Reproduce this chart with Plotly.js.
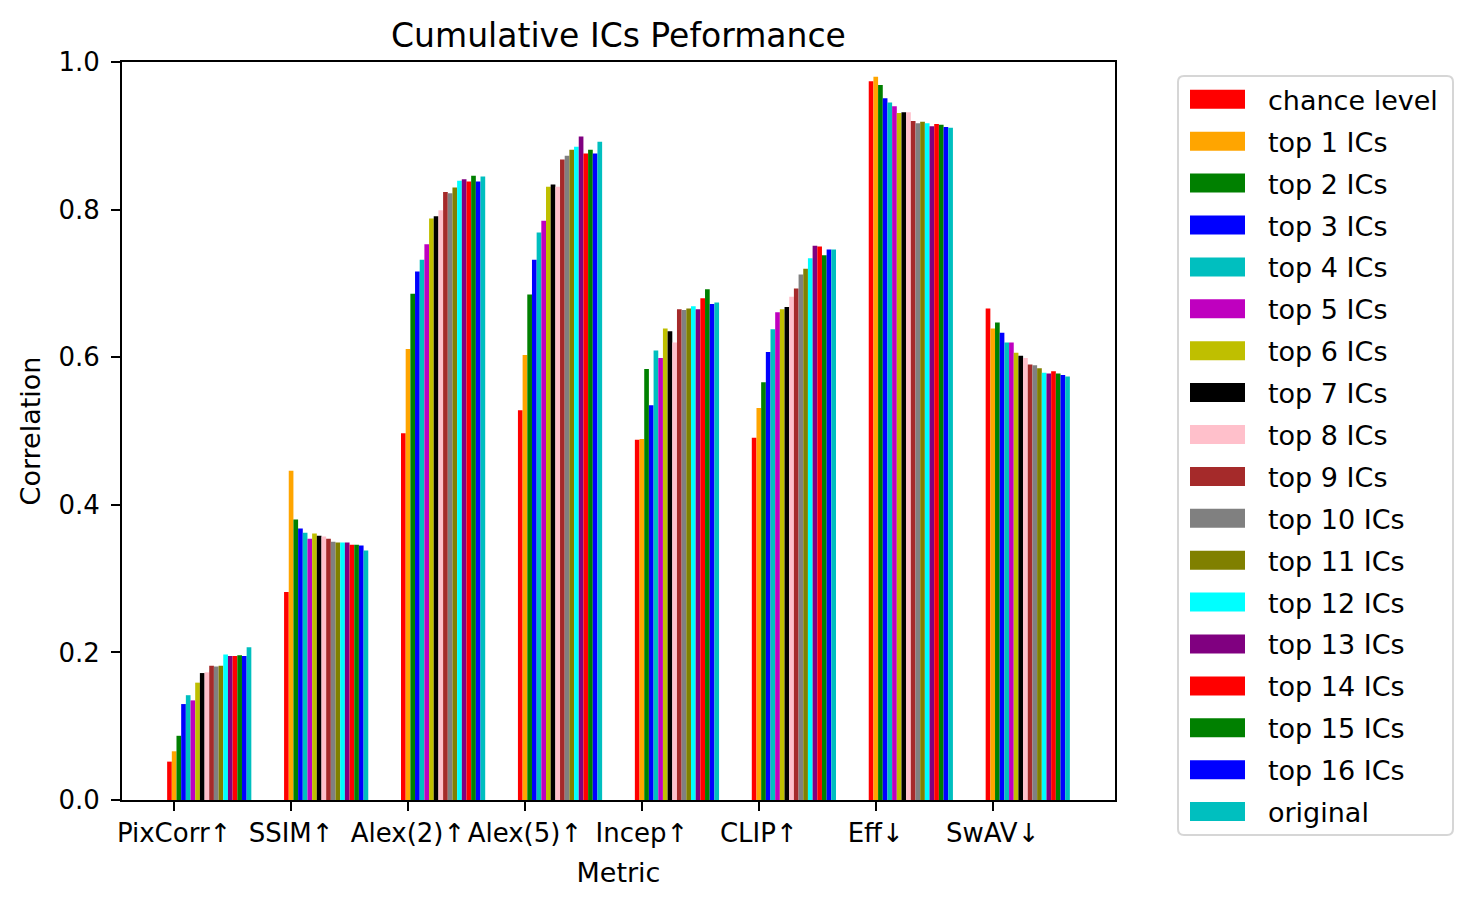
<!DOCTYPE html>
<html>
<head>
<meta charset="utf-8">
<script src="https://cdn.plot.ly/plotly-3.0.1.min.js"></script>
<style>html,body{margin:0;padding:0;background:#fff;}#chart{width:1472px;height:908px;}</style>
</head>
<body>
<div id="chart"></div>
<script>
// ---- data ----
const metrics = ['PixCorr↑', 'SSIM↑', 'Alex(2)↑', 'Alex(5)↑', 'Incep↑', 'CLIP↑', 'Eff↓', 'SwAV↓'];
const seriesNames = ['chance level', 'top 1 ICs', 'top 2 ICs', 'top 3 ICs', 'top 4 ICs', 'top 5 ICs',
  'top 6 ICs', 'top 7 ICs', 'top 8 ICs', 'top 9 ICs', 'top 10 ICs', 'top 11 ICs', 'top 12 ICs',
  'top 13 ICs', 'top 14 ICs', 'top 15 ICs', 'top 16 ICs', 'original'];
const seriesColors = ['#ff0000', '#ffa500', '#008000', '#0000ff', '#00bfbf', '#bf00bf', '#bfbf00',
  '#000000', '#ffc0cb', '#a52a2a', '#808080', '#808000', '#00ffff', '#800080', '#ff0000',
  '#008000', '#0000ff', '#00bfbf'];
// values per metric, one entry per series (in seriesNames order)
const pixcorr = [0.052, 0.066, 0.087, 0.130, 0.142, 0.135, 0.159, 0.172, 0.173, 0.182, 0.181, 0.182, 0.197, 0.195, 0.195, 0.196, 0.195, 0.207];
const ssim    = [0.282, 0.446, 0.380, 0.368, 0.362, 0.354, 0.361, 0.358, 0.357, 0.354, 0.350, 0.349, 0.349, 0.349, 0.346, 0.346, 0.345, 0.338];
const alex2   = [0.497, 0.611, 0.686, 0.716, 0.732, 0.753, 0.788, 0.791, 0.799, 0.824, 0.822, 0.830, 0.839, 0.841, 0.838, 0.846, 0.838, 0.845];
const alex5   = [0.528, 0.603, 0.685, 0.732, 0.769, 0.785, 0.831, 0.834, 0.831, 0.868, 0.873, 0.881, 0.885, 0.899, 0.876, 0.881, 0.876, 0.892];
const incep   = [0.488, 0.489, 0.584, 0.535, 0.609, 0.599, 0.639, 0.635, 0.620, 0.665, 0.664, 0.666, 0.669, 0.665, 0.680, 0.692, 0.672, 0.674];
const clip    = [0.491, 0.531, 0.566, 0.607, 0.638, 0.661, 0.665, 0.668, 0.682, 0.693, 0.712, 0.720, 0.734, 0.751, 0.750, 0.738, 0.746, 0.746];
const eff     = [0.974, 0.980, 0.969, 0.951, 0.945, 0.940, 0.931, 0.932, 0.932, 0.920, 0.917, 0.919, 0.917, 0.913, 0.916, 0.915, 0.912, 0.911];
const swav    = [0.666, 0.639, 0.647, 0.633, 0.620, 0.620, 0.606, 0.602, 0.599, 0.590, 0.589, 0.585, 0.579, 0.578, 0.581, 0.578, 0.576, 0.574];
const yTickVals = [0, 0.2, 0.4, 0.6, 0.8, 1.0];

// ---- build ----
const table = [pixcorr, ssim, alex2, alex5, incep, clip, eff, swav];
const nS = seriesNames.length;
const barW = 0.04;
// matplotlib-style: ticks sit at the centre of the 2nd bar of each group
const groupShift = (nS / 2 - 1.5) * barW;
const groupPos = metrics.map((m, k) => k + groupShift);

const traces = seriesNames.map((name, i) => ({
  type: 'bar',
  name: name,
  x: groupPos,
  y: table.map(row => row[i]),
  marker: {color: seriesColors[i], line: {width: 0}},
  showlegend: false,
  hoverinfo: 'name+y'
}));

// ---- manual matplotlib-like legend ----
const L = 122, R = 1115, T = 62, B = 800;
const px2x = p => (p - L) / (R - L);
const py2y = p => (B - p) / (B - T);
const shapes = [];
const annotations = [];
const boxL = 1178, boxR = 1453, boxT = 76, boxB = 835, rad = 6;
const rx = rad / (R - L), ry = rad / (B - T);
const bx0 = px2x(boxL), bx1 = px2x(boxR), by0 = py2y(boxB), by1 = py2y(boxT);
shapes.push({
  type: 'path', xref: 'paper', yref: 'paper',
  path: `M${bx0 + rx},${by1} L${bx1 - rx},${by1} Q${bx1},${by1} ${bx1},${by1 - ry} ` +
        `L${bx1},${by0 + ry} Q${bx1},${by0} ${bx1 - rx},${by0} L${bx0 + rx},${by0} ` +
        `Q${bx0},${by0} ${bx0},${by0 + ry} L${bx0},${by1 - ry} Q${bx0},${by1} ${bx0 + rx},${by1} Z`,
  fillcolor: '#ffffff', line: {color: '#d6d6d6', width: 2}, layer: 'above'
});
const firstY = 99.3, stepY = 41.9;
seriesNames.forEach((name, i) => {
  const cy = firstY + i * stepY;
  shapes.push({
    type: 'rect', xref: 'paper', yref: 'paper',
    x0: px2x(1190), x1: px2x(1245), y0: py2y(cy + 9.5), y1: py2y(cy - 9.5),
    fillcolor: seriesColors[i], line: {width: 0}, layer: 'above'
  });
  annotations.push({
    xref: 'paper', yref: 'paper', x: px2x(1266), y: py2y(cy + 1),
    xanchor: 'left', yanchor: 'middle', showarrow: false, text: name,
    font: {family: 'DejaVu Sans', size: 27, color: '#000'}
  });
});

const layout = {
  width: 1472, height: 908,
  margin: {l: L, r: 1472 - R, t: T, b: 908 - B, pad: 0},
  paper_bgcolor: '#ffffff', plot_bgcolor: '#ffffff',
  font: {family: 'DejaVu Sans', size: 26, color: '#000'},
  barmode: 'group', bargap: 1 - nS * barW, bargroupgap: 0,
  title: {text: 'Cumulative ICs Peformance', font: {family: 'DejaVu Sans', size: 33, color: '#000'},
          x: 0.5, xref: 'paper', xanchor: 'center', y: 1, yref: 'paper', yanchor: 'bottom', pad: {b: 15}},
  xaxis: {
    range: [-0.446, 8.046], tickmode: 'array', tickvals: metrics.map((m, k) => k), ticktext: metrics,
    showline: true, mirror: true, linecolor: '#000', linewidth: 2, showgrid: false, zeroline: false,
    ticks: 'outside', ticklen: 9, tickwidth: 2, tickcolor: '#000', ticklabelstandoff: 0,
    tickfont: {family: 'DejaVu Sans', size: 26, color: '#000'},
    title: {text: 'Metric', font: {family: 'DejaVu Sans', size: 27, color: '#000'}, standoff: 16},
    automargin: false
  },
  yaxis: {
    range: [0, 1], tickmode: 'array', tickvals: yTickVals, ticktext: yTickVals.map(v => v.toFixed(1)),
    showline: true, mirror: true, linecolor: '#000', linewidth: 2, showgrid: false, zeroline: false,
    ticks: 'outside', ticklen: 9, tickwidth: 2, tickcolor: '#000', ticklabelstandoff: 6,
    tickfont: {family: 'DejaVu Sans', size: 26, color: '#000'},
    title: {text: 'Correlation', font: {family: 'DejaVu Sans', size: 27, color: '#000'}, standoff: 10},
    automargin: false
  },
  shapes: shapes,
  annotations: annotations
};

Plotly.newPlot('chart', traces, layout, {displayModeBar: false, staticPlot: true});
</script>
</body>
</html>
